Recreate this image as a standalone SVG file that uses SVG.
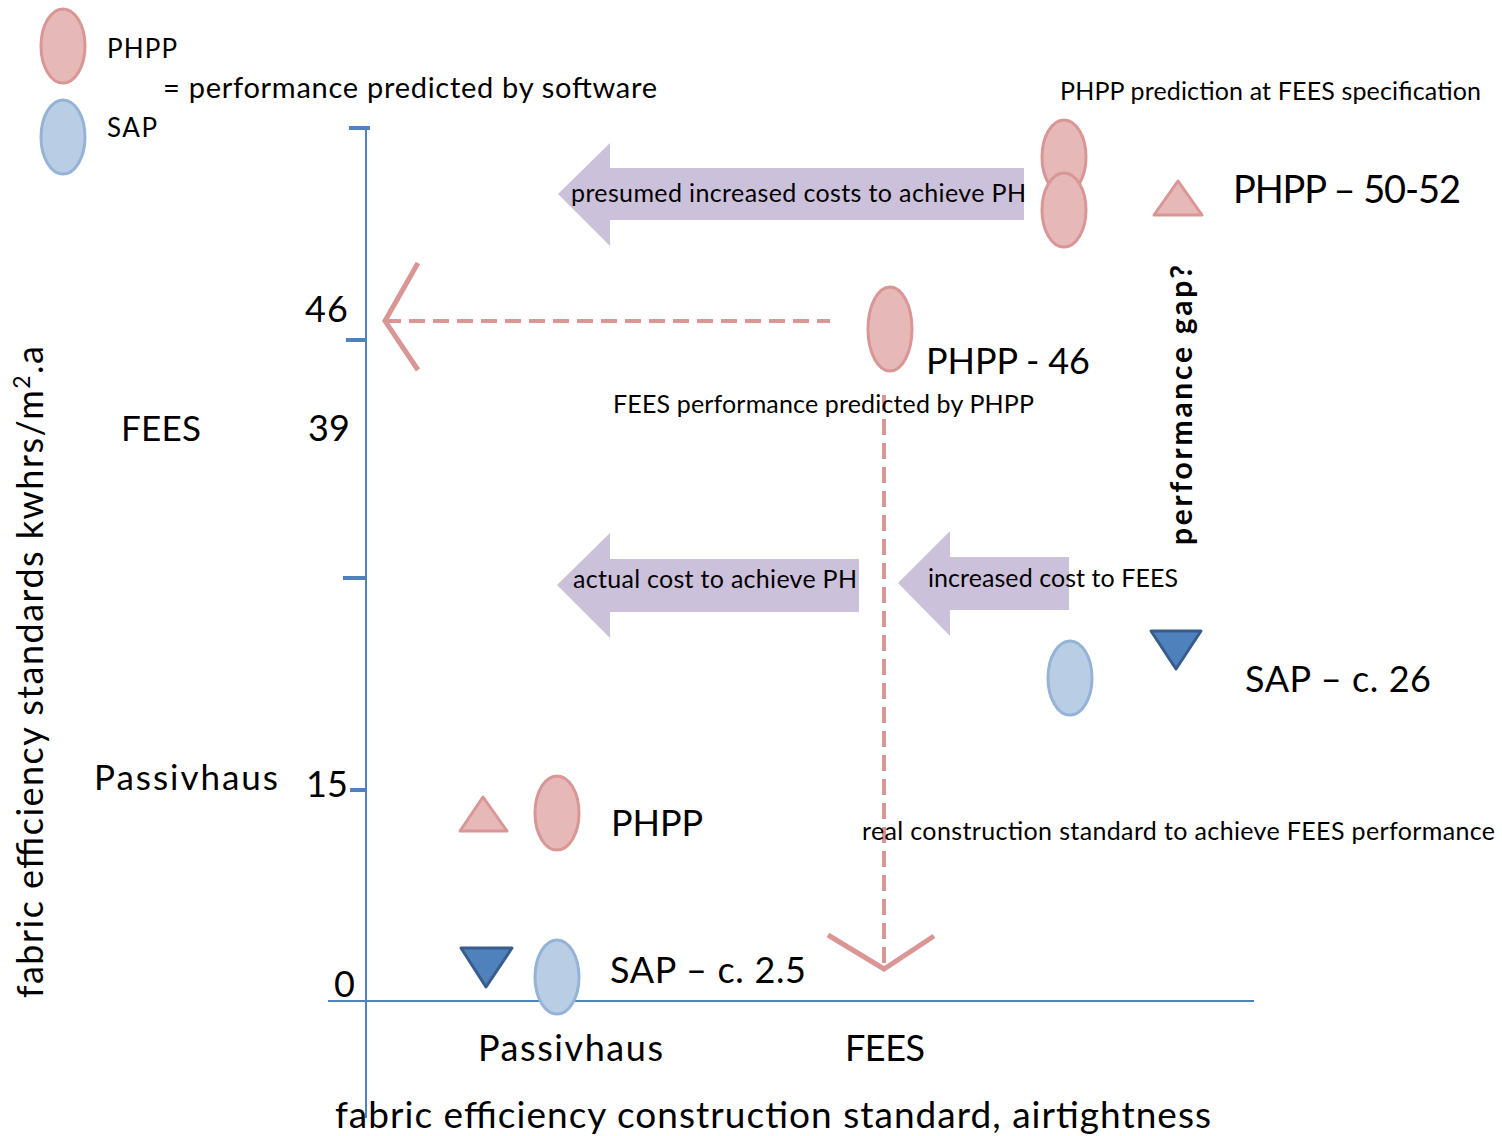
<svg xmlns="http://www.w3.org/2000/svg" width="1502" height="1136" viewBox="0 0 1502 1136">
<defs>
<style>
text{font-family:Lato,"Liberation Sans",sans-serif;fill:#000}
.pk{fill:#e6b9b8;stroke:#d99694;stroke-width:3}
.bl{fill:#b9cde5;stroke:#95b3d7;stroke-width:3}
.tri-dn{fill:#4f81bd;stroke:#385d8a;stroke-width:3;stroke-linejoin:round}
.tri-up{fill:#e6b9b8;stroke:#d99694;stroke-width:3;stroke-linejoin:round}
.axis{stroke:#4f81bd;stroke-width:2;fill:none}
.tick{stroke:#4f81bd;stroke-width:4;fill:none}
.dash{stroke:#d99694;stroke-width:4;stroke-dasharray:16 8;fill:none}
.chev{stroke:#d99694;stroke-width:5;fill:none}
.big{fill:#ccc1da}
.s24{font-size:25px}
.s36{font-size:36px}
</style>
</defs>
<rect width="1502" height="1136" fill="#fff"/>
<g id="legend">
<ellipse class="pk" cx="63" cy="46" rx="22" ry="37"/>
<ellipse class="bl" cx="63" cy="137" rx="22" ry="37"/>
<text x="107" y="58" font-size="26" textLength="70">PHPP</text>
<text x="163" y="98" font-size="29" textLength="494">= performance  predicted by software</text>
<text x="107" y="137" font-size="26" textLength="50">SAP</text>
</g>
<g id="axes">
<line class="axis" x1="366" y1="128" x2="366" y2="1118"/>
<line class="axis" x1="328" y1="1001" x2="1254" y2="1001"/>
<line class="tick" x1="349" y1="128" x2="370" y2="128"/>
<line class="tick" x1="346" y1="340" x2="366" y2="340"/>
<line class="tick" x1="343" y1="578" x2="366" y2="578"/>
<line class="tick" x1="350" y1="790" x2="366" y2="790"/>
<text class="s36" x="305" y="322" textLength="43">46</text>
<text class="s36" x="308" y="441" textLength="42">39</text>
<text class="s36" x="306" y="797" textLength="42">15</text>
<text class="s36" x="334" y="997">0</text>
<text x="121" y="441" font-size="35" textLength="80">FEES</text>
<text x="94" y="790" font-size="35" textLength="184">Passivhaus</text>
<text transform="translate(43,998) rotate(-90)" font-size="36" textLength="652">fabric efficiency standards kwhrs/m<tspan font-size="23" dy="-13">2</tspan><tspan dy="13">.a</tspan></text>
<text class="s36" x="478" y="1061" textLength="185">Passivhaus</text>
<text class="s36" x="845" y="1061" textLength="80">FEES</text>
<text x="335" y="1128" font-size="37" textLength="876">fabric efficiency construction standard, airtightness</text>
</g>
<g id="connectors">
<path class="big" d="M558,194 L610,143 L610,168 L1024,168 L1024,220 L610,220 L610,246 Z"/>
<path class="big" d="M557,585 L610,533 L610,559 L859,559 L859,612 L610,612 L610,638 Z"/>
<path class="big" d="M898,583 L950,531 L950,557 L1069,557 L1069,610 L950,610 L950,636 Z"/>
<line class="dash" x1="385" y1="321" x2="830" y2="321"/>
<polyline class="chev" points="418,263 385,321 418,370"/>
<line class="dash" x1="884" y1="395" x2="884" y2="966"/>
<polyline class="chev" points="828,935 884,969 934,936"/>
</g>
<g id="arrow-labels">
<text class="s24" x="571" y="202" textLength="455">presumed increased costs to achieve PH</text>
<text class="s24" x="573" y="588" textLength="284">actual cost to achieve PH</text>
<text class="s24" x="928" y="587" textLength="250">increased cost to FEES</text>
</g>
<g id="phpp-fees-spec">
<ellipse class="pk" cx="1064" cy="157" rx="22" ry="37"/>
<ellipse class="pk" cx="1064" cy="210" rx="22" ry="37"/>
<polygon class="tri-up" points="1178,181 1202,215 1154,215"/>
<text class="s24" x="1060" y="100" textLength="421">PHPP prediction at FEES specification</text>
<text x="1233" y="203" font-size="38" textLength="228">PHPP – 50-52</text>
</g>
<g id="phpp-46">
<ellipse class="pk" cx="890" cy="329" rx="22" ry="42"/>
<text class="s36" x="926" y="374" textLength="164">PHPP - 46</text>
<text class="s24" x="613" y="413" textLength="421">FEES performance predicted by PHPP</text>
</g>
<g id="performance-gap">
<text transform="translate(1192,545) rotate(-90)" font-size="30" font-weight="bold" textLength="280">performance gap?</text>
</g>
<g id="sap-26">
<ellipse class="bl" cx="1070" cy="678" rx="22" ry="37"/>
<polygon class="tri-dn" points="1151,631 1201,631 1176,669"/>
<text class="s36" x="1245" y="692" textLength="186">SAP – c. 26</text>
</g>
<g id="real-construction">
<text class="s24" x="862" y="840" textLength="633">real construction standard to achieve FEES performance</text>
</g>
<g id="phpp-ph">
<polygon class="tri-up" points="483,797 507,831 460,831"/>
<ellipse class="pk" cx="557" cy="813" rx="22" ry="37"/>
<text class="s36" x="611" y="836" textLength="92">PHPP</text>
</g>
<g id="sap-ph">
<polygon class="tri-dn" points="461,948 512,948 486,987"/>
<ellipse class="bl" cx="557" cy="977" rx="22" ry="37"/>
<text class="s36" x="610" y="983" textLength="196">SAP – c. 2.5</text>
</g>
</svg>
